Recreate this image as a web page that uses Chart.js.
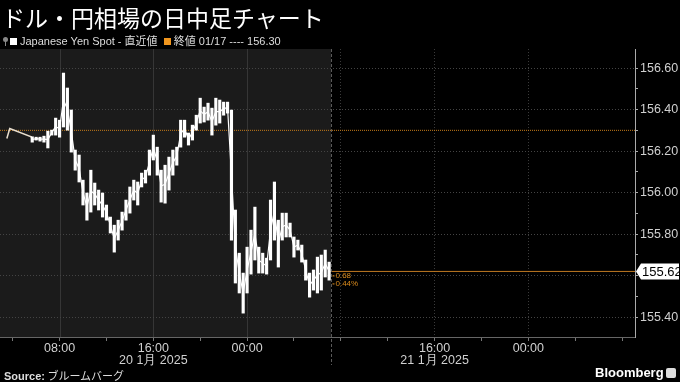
<!DOCTYPE html>
<html>
<head>
<meta charset="utf-8">
<script src="https://cdn.jsdelivr.net/npm/chart.js@4.4.1/dist/chart.umd.min.js"></script>
<style>
  body { margin: 0; background: #000; }
  #wrap { position: relative; width: 680px; height: 382px; overflow: hidden; background: #000; }
  #chart { position: absolute; left: 0; top: 0; }
  .title { position: absolute; left: 2px; top: 0px; color: #fff; font: 23px "Noto Sans CJK JP", sans-serif; white-space: nowrap; }
  .legend { position: absolute; left: 3px; top: 32px; color: #ddd; font: 11px "Liberation Sans", Arial, sans-serif; white-space: nowrap; }
  .legend .jp { font-family: "Noto Sans CJK JP", sans-serif; }
  .sq { display: inline-block; width: 7px; height: 7px; margin-right: 3px; vertical-align: 0px; }
  .pin { display: inline-block; position: relative; width: 6px; height: 9px; margin-right: 1px; vertical-align: -1px; }
  .pin:before { content: ""; position: absolute; left: 0; top: 0; width: 5px; height: 5px; border-radius: 50%; background: #888; }
  .pin:after { content: ""; position: absolute; left: 2px; top: 4px; width: 1px; height: 5px; background: #888; }
  .source { position: absolute; left: 4px; top: 367px; color: #ddd; font: 11px "Noto Sans CJK JP", sans-serif; white-space: nowrap; }
  .source b { font-family: "Liberation Sans", Arial, sans-serif; }
  .brand { position: absolute; left: 595px; top: 365px; color: #fff; font: bold 13px "Liberation Sans", Arial, sans-serif; }
  .logo { position: absolute; left: 666px; top: 368px; width: 10px; height: 10px; background: #ddd; border-radius: 2px; }
</style>
</head>
<body>
<div id="wrap">
  <canvas id="chart" width="680" height="382"></canvas>
  <div class="title">ドル・円相場の日中足チャート</div>
  <div class="legend"><span class="pin"></span><span class="sq" style="background:#fff"></span>Japanese Yen Spot - <span class="jp">直近値</span>&nbsp;&nbsp;<span class="sq" style="background:#f0961e"></span><span class="jp">終値</span> 01/17 ---- 156.30</div>
  <div class="source"><b>Source:</b> ブルームバーグ</div>
  <div class="brand">Bloomberg</div>
  <div class="logo"></div>
</div>
<script>
// bar start times, "day hh:mm" in January 2025 (Tokyo time)
const barTimes = [
  '20 05:40', '20 06:00', '20 06:20', '20 06:40',
  '20 07:00', '20 07:20', '20 07:40', '20 08:00', '20 08:20', '20 08:40',
  '20 09:00', '20 09:20', '20 09:40', '20 10:00', '20 10:20', '20 10:40',
  '20 11:00', '20 11:20', '20 11:40', '20 12:00', '20 12:20', '20 12:40',
  '20 13:00', '20 13:20', '20 13:40', '20 14:00', '20 14:20', '20 14:40',
  '20 15:00', '20 15:20', '20 15:40', '20 16:00', '20 16:20', '20 16:40',
  '20 17:00', '20 17:20', '20 17:40', '20 18:00', '20 18:20', '20 18:40',
  '20 19:00', '20 19:20', '20 19:40', '20 20:00', '20 20:20', '20 20:40',
  '20 21:00', '20 21:20', '20 21:40', '20 22:00', '20 22:20', '20 22:40',
  '20 23:00', '20 23:20', '20 23:40',
  '21 00:00', '21 00:20', '21 00:40', '21 01:00', '21 01:20', '21 01:40',
  '21 02:00', '21 02:20', '21 02:40', '21 03:00', '21 03:20', '21 03:40',
  '21 04:00', '21 04:20', '21 04:40', '21 05:00', '21 05:20', '21 05:40',
  '21 06:00', '21 06:20', '21 06:40', '21 07:00'
];
const highs = [
  156.269, 156.267, 156.267, 156.272,
  156.296, 156.301, 156.359, 156.349, 156.576, 156.504,
  156.398, 156.205, 156.181, 156.060, 155.998, 156.108,
  156.046, 156.012, 155.998, 155.940, 155.882, 155.843,
  155.867, 155.906, 155.964, 156.027, 156.060, 156.051,
  156.094, 156.108, 156.205, 156.277, 156.219, 156.108,
  156.132, 156.171, 156.205, 156.219, 156.349, 156.349,
  156.287, 156.325, 156.373, 156.455, 156.412, 156.431,
  156.407, 156.455, 156.446, 156.436, 156.436, 156.398,
  155.916, 155.708, 155.612,
  155.737, 155.819, 155.930, 155.737, 155.708, 155.684,
  155.964, 156.051, 155.867, 155.901, 155.901, 155.853,
  155.786, 155.771, 155.747, 155.675, 155.612, 155.627,
  155.689, 155.699, 155.723, 155.665
];
const lows = [
  156.243, 156.253, 156.248, 156.243,
  156.215, 156.277, 156.277, 156.267, 156.316, 156.301,
  156.195, 156.108, 156.051, 155.940, 155.867, 155.906,
  155.940, 155.916, 155.882, 155.867, 155.805, 155.713,
  155.771, 155.819, 155.867, 155.901, 155.964, 155.940,
  156.027, 156.046, 156.084, 156.157, 156.084, 155.954,
  155.949, 156.012, 156.084, 156.132, 156.219, 156.267,
  156.229, 156.253, 156.301, 156.335, 156.340, 156.349,
  156.277, 156.325, 156.335, 156.373, 156.383, 155.771,
  155.564, 155.516, 155.419,
  155.516, 155.607, 155.675, 155.612, 155.612, 155.607,
  155.675, 155.771, 155.641, 155.771, 155.786, 155.786,
  155.689, 155.723, 155.665, 155.578, 155.496, 155.530,
  155.516, 155.530, 155.593, 155.578
];
// thin early-morning line before the first bars
const preTimes = ['20 03:30', '20 03:45', '20 05:35', '20 05:40'];
const preValues = [156.261, 156.309, 156.269, 156.253];

const prevClose = 156.30;
const lastPrice = 155.62;

const axisStart = '20 02:55';
const axisEnd = '22 09:06';
const xTickTimes = ['20 04:00', '20 08:00', '20 12:00', '20 16:00', '20 20:00', '21 00:00', '21 04:00',
  '21 08:00', '21 12:00', '21 16:00', '21 20:00', '22 00:00', '22 04:00', '22 08:00'];
const xTickLabels = ['', '08:00', '', ['16:00', '20 1月 2025'], '', '00:00', '',
  '', '', ['16:00', '21 1月 2025'], '', '00:00', '', ''];
const gridTimes = ['20 08:00', '20 16:00', '21 00:00', '21 08:00', '21 16:00', '22 00:00'];

const yMin = 155.304;
const yMax = 156.692;
const yTicks = [155.4, 155.5, 155.6, 155.7, 155.8, 155.9, 156.0, 156.1, 156.2, 156.3, 156.4, 156.5, 156.6];
const yTickLabels = ['155.40', '', '155.60', '', '155.80', '', '156.00', '', '156.20', '', '156.40', '', '156.60'];

// hours from 21 Jan 00:00
const toHours = t => {
    const [d, hm] = t.split(' ');
    const [h, m] = hm.split(':').map(Number);
    return (Number(d) - 21) * 24 + h + m / 60;
};

const gridHours = gridTimes.map(toHours);
const endHour = toHours(barTimes[barTimes.length - 1]);
const tickFont = { family: 'Liberation Sans', size: 12.5, lineHeight: 1.0 };

const sessionPlugin = {
    id: 'session',
    beforeDraw(chart) {
        const { ctx, chartArea: a, scales: { x } } = chart;
        const endX = Math.round(x.getPixelForValue(endHour)) + 2;
        ctx.save();
        ctx.fillStyle = '#1b1b1b';
        ctx.fillRect(a.left, a.top, endX - a.left, a.bottom - a.top);
        ctx.strokeStyle = '#363636';
        ctx.lineWidth = 1;
        gridHours.forEach(h => {
            const px = Math.round(x.getPixelForValue(h)) + 0.5;
            if (px < endX) {
                ctx.beginPath();
                ctx.moveTo(px, a.top);
                ctx.lineTo(px, a.bottom);
                ctx.stroke();
            }
        });
        ctx.restore();
    },
    afterDraw(chart) {
        const { ctx, chartArea: a, scales: { x, y } } = chart;
        const endX = Math.round(x.getPixelForValue(endHour)) + 2.5;
        ctx.save();
        // end of data marker
        ctx.strokeStyle = '#5a5a5a';
        ctx.setLineDash([3, 2]);
        ctx.beginPath();
        ctx.moveTo(endX, a.top);
        ctx.lineTo(endX, a.bottom + 28);
        ctx.stroke();
        ctx.setLineDash([]);

        // change from previous close
        const py = y.getPixelForValue(lastPrice);
        const diff = prevClose - lastPrice;
        const pct = diff / prevClose * 100;
        ctx.fillStyle = '#d98a1c';
        ctx.font = '8px "Liberation Sans"';
        ctx.textBaseline = 'middle';
        ctx.fillRect(endX + 1, py + 4, 2, 1);
        ctx.fillRect(endX + 1, py + 12, 2, 1);
        ctx.fillText(diff.toFixed(2), endX + 4, py + 4.5);
        ctx.fillText(pct.toFixed(2) + '%', endX + 4, py + 12.5);

        // last price box on the axis
        const bx = a.right + 1;
        ctx.fillStyle = '#fff';
        ctx.beginPath();
        ctx.moveTo(bx, py);
        ctx.lineTo(bx + 5, py - 8);
        ctx.lineTo(679, py - 8);
        ctx.lineTo(679, py + 8);
        ctx.lineTo(bx + 5, py + 8);
        ctx.closePath();
        ctx.fill();
        ctx.fillStyle = '#000';
        ctx.font = '13px "Liberation Sans"';
        ctx.textAlign = 'left';
        ctx.fillText(lastPrice.toFixed(2), bx + 6, py + 0.5);
        ctx.restore();
    }
};

const ctx = document.getElementById('chart').getContext('2d');

new Chart(ctx, {
    type: 'bar',
    data: {
        datasets: [
            {
                type: 'bar',
                data: barTimes.map((t, i) => ({ x: toHours(t), y: [lows[i], highs[i]] })),
                backgroundColor: '#ffffff',
                borderWidth: 0,
                barThickness: 2.5,
                grouped: false,
                order: 0
            },
            {
                // joins each bar to the next through its midpoint
                type: 'line',
                data: barTimes.map((t, i) => ({ x: toHours(t), y: (lows[i] + highs[i]) / 2 })),
                borderColor: '#ffffff',
                borderWidth: 1.2,
                pointRadius: 0,
                order: 1
            },
            {
                type: 'line',
                data: preTimes.map((t, i) => ({ x: toHours(t), y: preValues[i] })),
                borderColor: '#e9dfcf',
                borderWidth: 1.5,
                pointRadius: 0,
                order: 0
            },
            {
                type: 'line',
                data: [{ x: toHours(axisStart), y: prevClose }, { x: toHours(axisEnd), y: prevClose }],
                borderColor: '#c47a18',
                borderWidth: 1,
                borderDash: [1, 1],
                pointRadius: 0,
                order: 2
            },
            {
                type: 'line',
                data: [{ x: endHour, y: lastPrice }, { x: toHours(axisEnd), y: lastPrice }],
                borderColor: '#c07a22',
                borderWidth: 1,
                pointRadius: 0,
                order: 2
            }
        ]
    },
    options: {
        responsive: false,
        animation: false,
        events: [],
        layout: { padding: { top: 49, left: 0, right: 0, bottom: 0 } },
        plugins: { legend: { display: false }, tooltip: { enabled: false } },
        scales: {
            x: {
                type: 'linear',
                offset: false,
                min: toHours(axisStart),
                max: toHours(axisEnd),
                afterBuildTicks: s => { s.ticks = xTickTimes.map(t => ({ value: toHours(t) })); },
                afterFit: s => { s.height = 45; },
                ticks: {
                    autoSkip: false,
                    maxRotation: 0,
                    padding: 1,
                    color: '#d0d0d0',
                    font: tickFont,
                    callback: (v, i) => xTickLabels[i]
                },
                grid: {
                    offset: false,
                    color: c => (c.tick && gridHours.includes(c.tick.value) && c.tick.value > endHour) ? '#3a3a3a' : 'rgba(0,0,0,0)',
                    tickColor: '#777',
                    tickLength: 4
                },
                border: { color: '#666', dash: [1, 2] }
            },
            y: {
                position: 'right',
                min: yMin,
                max: yMax,
                afterBuildTicks: s => { s.ticks = yTicks.map(v => ({ value: v })); },
                afterFit: s => { s.width = 45; },
                ticks: {
                    padding: 2,
                    color: '#d0d0d0',
                    font: tickFont,
                    callback: (v, i) => yTickLabels[i]
                },
                grid: {
                    color: c => (c.tick && yTickLabels[c.index]) ? '#444' : 'rgba(0,0,0,0)',
                    tickColor: '#aaa',
                    tickLength: 3
                },
                border: { color: '#aaa', dash: [1, 2] }
            }
        }
    },
    plugins: [sessionPlugin]
});
</script>
</body>
</html>
